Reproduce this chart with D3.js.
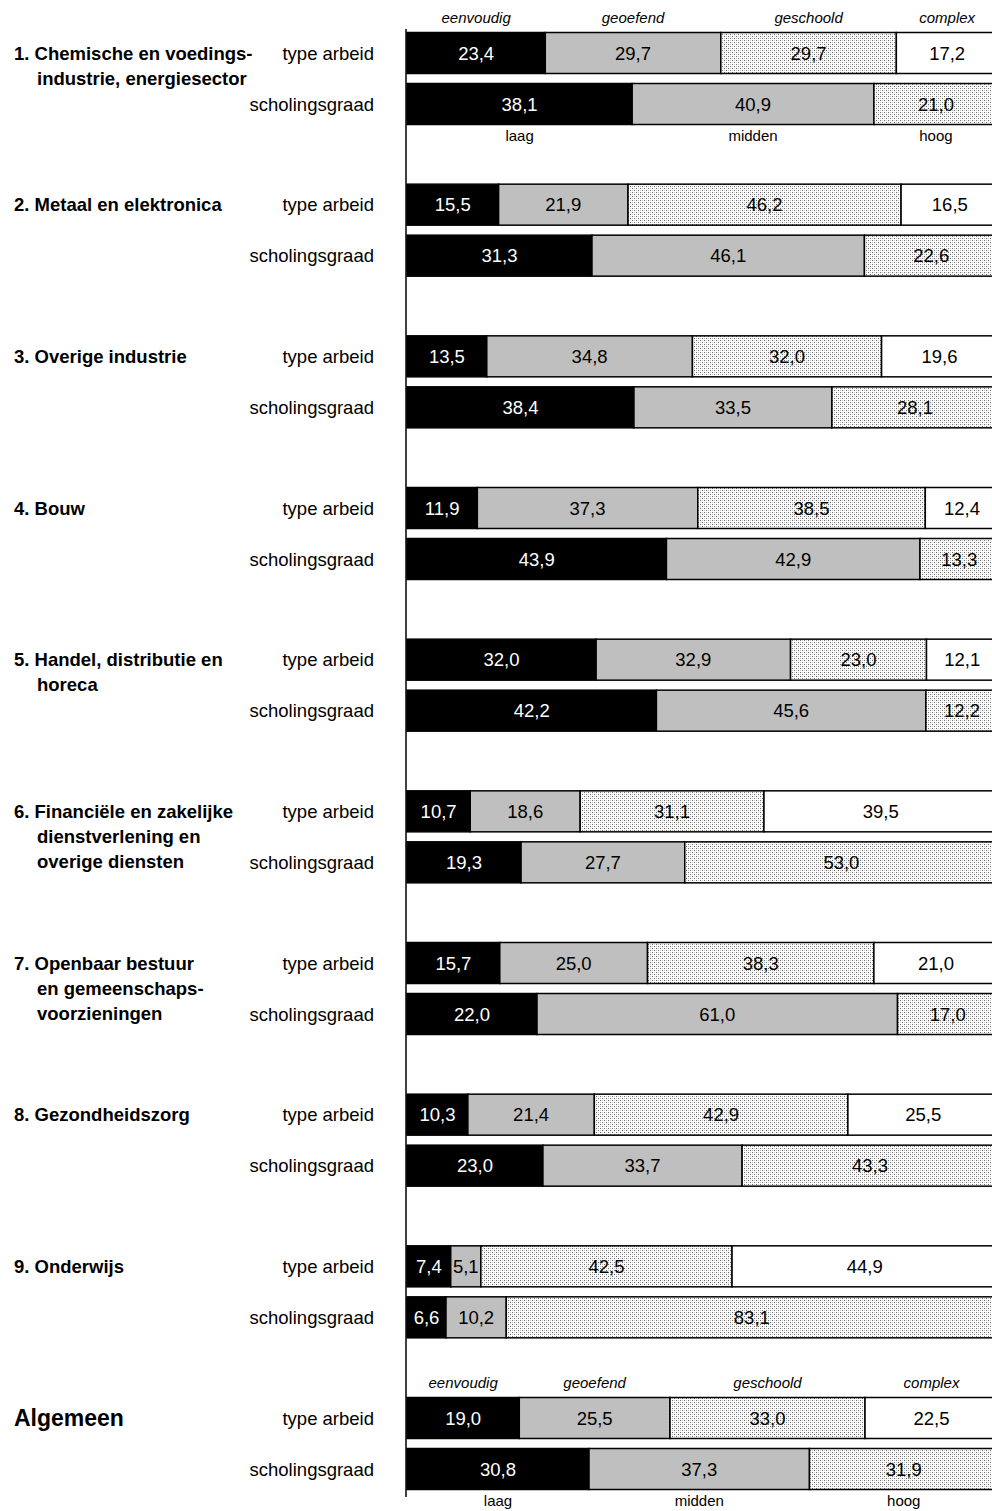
<!DOCTYPE html>
<html>
<head>
<meta charset="utf-8">
<script src="https://cdn.jsdelivr.net/npm/d3@7"></script>
<style>
  body { margin: 0; background: #fff; }
  svg text { font-family: "Liberation Sans", Arial, Helvetica, sans-serif; }
</style>
</head>
<body>
<div id="chart"></div>
<script>
// sector labels (line by line)
const sectors = [
  ["1. Chemische en voedings-", "industrie, energiesector"],
  ["2. Metaal en elektronica"],
  ["3. Overige industrie"],
  ["4. Bouw"],
  ["5. Handel, distributie en", "horeca"],
  ["6. Financiële en zakelijke", "dienstverlening en", "overige diensten"],
  ["7. Openbaar bestuur", "en gemeenschaps-", "voorzieningen"],
  ["8. Gezondheidszorg"],
  ["9. Onderwijs"],
  ["Algemeen"]
];

const typeCats = ["eenvoudig", "geoefend", "geschoold", "complex"];
const scholCats = ["laag", "midden", "hoog"];

// type arbeid: eenvoudig, geoefend, geschoold, complex
const typeArbeid = [
  [23.4, 29.7, 29.7, 17.2],
  [15.5, 21.9, 46.2, 16.5],
  [13.5, 34.8, 32.0, 19.6],
  [11.9, 37.3, 38.5, 12.4],
  [32.0, 32.9, 23.0, 12.1],
  [10.7, 18.6, 31.1, 39.5],
  [15.7, 25.0, 38.3, 21.0],
  [10.3, 21.4, 42.9, 25.5],
  [7.4, 5.1, 42.5, 44.9],
  [19.0, 25.5, 33.0, 22.5]
];

// scholingsgraad: laag, midden, hoog
const scholing = [
  [38.1, 40.9, 21.0],
  [31.3, 46.1, 22.6],
  [38.4, 33.5, 28.1],
  [43.9, 42.9, 13.3],
  [42.2, 45.6, 12.2],
  [19.3, 27.7, 53.0],
  [22.0, 61.0, 17.0],
  [23.0, 33.7, 43.3],
  [6.6, 10.2, 83.1],
  [30.8, 37.3, 31.9]
];

const width = 992, height = 1511;
const fmt = v => d3.format(".1f")(v).replace(".", ",");

const svg = d3.select("#chart").append("svg")
    .attr("width", width)
    .attr("height", height);

// dotted fill for the third segment
const pat = svg.append("defs").append("pattern")
    .attr("id", "dots")
    .attr("width", 4).attr("height", 4)
    .attr("patternUnits", "userSpaceOnUse");
pat.append("rect").attr("width", 4).attr("height", 4).attr("fill", "#fff");
pat.append("rect").attr("x", 0).attr("y", 0).attr("width", 1).attr("height", 1).attr("fill", "#666");
pat.append("rect").attr("x", 2).attr("y", 2).attr("width", 1).attr("height", 1).attr("fill", "#666");
pat.append("rect").attr("x", 2).attr("y", 0).attr("width", 1).attr("height", 1).attr("fill", "#ccc");
pat.append("rect").attr("x", 0).attr("y", 2).attr("width", 1).attr("height", 1).attr("fill", "#ccc");

const fills = ["#000", "#bfbfbf", "url(#dots)", "#fff"];
const textFill = ["#fff", "#000", "#000", "#000"];

const x = d3.scaleLinear().domain([0, 100]).range([407, 998]);
const y = d3.scaleLinear().domain([0, sectors.length - 1]).range([53, 1418]);
const rowGap = 51, barH = 41;

// vertical axis line
svg.append("line")
    .attr("x1", 406).attr("x2", 406)
    .attr("y1", 29).attr("y2", 1497)
    .attr("stroke", "#000").attr("stroke-width", 1.5);

function stack(vals) {
  let acc = 0;
  return vals.map((v, i) => { const s = acc; acc += v; return {v, i, x0: s, x1: acc}; });
}

function drawRow(vals, cy) {
  const segs = stack(vals);
  const g = svg.append("g");
  g.selectAll("rect").data(segs).enter().append("rect")
      .attr("x", d => x(d.x0))
      .attr("y", cy - barH / 2)
      .attr("width", d => x(d.x1) - x(d.x0))
      .attr("height", barH)
      .attr("fill", d => fills[d.i])
      .attr("stroke", "#000")
      .attr("stroke-width", 1.5);
  g.selectAll("text").data(segs).enter().append("text")
      .attr("x", d => x((d.x0 + d.x1) / 2))
      .attr("y", cy)
      .attr("dy", "0.36em")
      .attr("text-anchor", "middle")
      .style("font-size", "18.5px")
      .attr("fill", d => textFill[d.i])
      .text(d => fmt(d.v));
  return segs;
}

sectors.forEach((lines, k) => {
  const ty = y(k), sy = y(k) + rowGap;
  const last = k === sectors.length - 1;

  // sector label
  const lab = svg.append("text")
      .attr("x", 14)
      .attr("y", ty)
      .style("font-weight", "bold")
      .style("font-size", last ? "23px" : "18.5px");
  lines.forEach((l, j) => {
    lab.append("tspan")
        .attr("x", j === 0 ? 14 : 37)
        .attr("dy", j === 0 ? "0.36em" : 25)
        .text(l);
  });

  svg.append("text").attr("x", 374).attr("y", ty).attr("dy", "0.36em")
      .attr("text-anchor", "end").style("font-size", "18.5px").text("type arbeid");
  svg.append("text").attr("x", 374).attr("y", sy).attr("dy", "0.36em")
      .attr("text-anchor", "end").style("font-size", "18.5px").text("scholingsgraad");

  const tSegs = drawRow(typeArbeid[k], ty);
  const sSegs = drawRow(scholing[k], sy);

  // category captions for the first and the overall group
  if (k === 0 || last) {
    svg.append("g").selectAll("text").data(tSegs).enter().append("text")
        .attr("x", d => x((d.x0 + d.x1) / 2))
        .attr("y", ty - 35)
        .attr("dy", "0.36em")
        .attr("text-anchor", "middle")
        .style("font-size", "15px")
        .style("font-style", "italic")
        .text(d => typeCats[d.i]);
    svg.append("g").selectAll("text").data(sSegs).enter().append("text")
        .attr("x", d => x((d.x0 + d.x1) / 2))
        .attr("y", sy + 32)
        .attr("dy", "0.36em")
        .attr("text-anchor", "middle")
        .style("font-size", "15px")
        .text(d => scholCats[d.i]);
  }
});
</script>
</body>
</html>
